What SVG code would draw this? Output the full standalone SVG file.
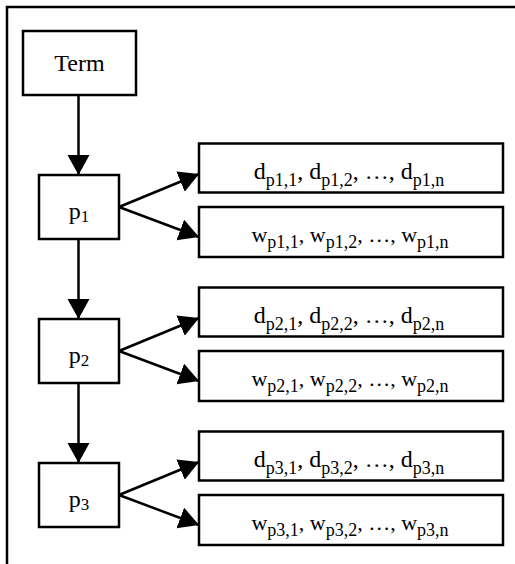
<svg xmlns="http://www.w3.org/2000/svg" width="515" height="564" viewBox="0 0 515 564">
<defs>
<style>
.box{fill:#fff;stroke:#000;stroke-width:2.5}
.con{fill:none;stroke:#000;stroke-width:2.5}
.t{font-family:"Liberation Serif","Times New Roman",serif;font-size:24px;fill:#000;text-anchor:middle}
.tw{font-size:22px}
.s{font-size:18px}
.ps{font-size:17px}
</style>
<marker id="ah" markerUnits="userSpaceOnUse" markerWidth="22" markerHeight="23" refX="20" refY="11" orient="auto" viewBox="0 0 22 23">
<path d="M0,0 L20,11 L0,22 z" fill="#000"/>
</marker>
</defs>
<rect width="515" height="564" fill="#fff"/>
<path d="M7,564 L7,7 L515,7" fill="none" stroke="#000" stroke-width="2.5"/>

<g id="connectors">
<line class="con" x1="78.5" y1="95" x2="78.5" y2="175" marker-end="url(#ah)"/>
<line class="con" x1="78.5" y1="239" x2="78.5" y2="319" marker-end="url(#ah)"/>
<line class="con" x1="78.5" y1="383" x2="78.5" y2="463" marker-end="url(#ah)"/>
<line class="con" x1="119" y1="207" x2="199" y2="174" marker-end="url(#ah)"/>
<line class="con" x1="119" y1="207" x2="199" y2="237" marker-end="url(#ah)"/>
<line class="con" x1="119" y1="351" x2="199" y2="318" marker-end="url(#ah)"/>
<line class="con" x1="119" y1="351" x2="199" y2="381" marker-end="url(#ah)"/>
<line class="con" x1="119" y1="495" x2="199" y2="462" marker-end="url(#ah)"/>
<line class="con" x1="119" y1="495" x2="199" y2="525" marker-end="url(#ah)"/>
</g>

<g id="term">
<rect class="box" x="23" y="31" width="113" height="64"/>
<text class="t" x="79.5" y="71">Term</text>
</g>

<g id="p1">
<rect class="box" x="39" y="175" width="80" height="64"/>
<text class="t" x="79" y="219">p<tspan class="ps" dy="3">1</tspan></text>
</g>
<g id="p2">
<rect class="box" x="39" y="319" width="80" height="64"/>
<text class="t" x="79" y="363">p<tspan class="ps" dy="3">2</tspan></text>
</g>
<g id="p3">
<rect class="box" x="39" y="463" width="80" height="64"/>
<text class="t" x="79" y="507">p<tspan class="ps" dy="3">3</tspan></text>
</g>

<g id="d1">
<rect class="box" x="199" y="143.5" width="304" height="49"/>
<text class="t" x="349" y="179">d<tspan class="s" dy="7">p1,1</tspan><tspan dy="-7">, d</tspan><tspan class="s" dy="7">p1,2</tspan><tspan dy="-7">, …, d</tspan><tspan class="s" dy="7">p1,n</tspan></text>
</g>
<g id="w1">
<rect class="box" x="199" y="207" width="304" height="50"/>
<text class="t tw" x="350" y="242">w<tspan class="s" dy="6">p1,1</tspan><tspan dy="-6">, w</tspan><tspan class="s" dy="6">p1,2</tspan><tspan dy="-6">, …, w</tspan><tspan class="s" dy="6">p1,n</tspan></text>
</g>
<g id="d2">
<rect class="box" x="199" y="287.5" width="304" height="49"/>
<text class="t" x="349" y="323">d<tspan class="s" dy="7">p2,1</tspan><tspan dy="-7">, d</tspan><tspan class="s" dy="7">p2,2</tspan><tspan dy="-7">, …, d</tspan><tspan class="s" dy="7">p2,n</tspan></text>
</g>
<g id="w2">
<rect class="box" x="199" y="351" width="304" height="50"/>
<text class="t tw" x="350" y="386">w<tspan class="s" dy="6">p2,1</tspan><tspan dy="-6">, w</tspan><tspan class="s" dy="6">p2,2</tspan><tspan dy="-6">, …, w</tspan><tspan class="s" dy="6">p2,n</tspan></text>
</g>
<g id="d3">
<rect class="box" x="199" y="431.5" width="304" height="49"/>
<text class="t" x="349" y="467">d<tspan class="s" dy="7">p3,1</tspan><tspan dy="-7">, d</tspan><tspan class="s" dy="7">p3,2</tspan><tspan dy="-7">, …, d</tspan><tspan class="s" dy="7">p3,n</tspan></text>
</g>
<g id="w3">
<rect class="box" x="199" y="495" width="304" height="50"/>
<text class="t tw" x="350" y="530">w<tspan class="s" dy="6">p3,1</tspan><tspan dy="-6">, w</tspan><tspan class="s" dy="6">p3,2</tspan><tspan dy="-6">, …, w</tspan><tspan class="s" dy="6">p3,n</tspan></text>
</g>
</svg>
